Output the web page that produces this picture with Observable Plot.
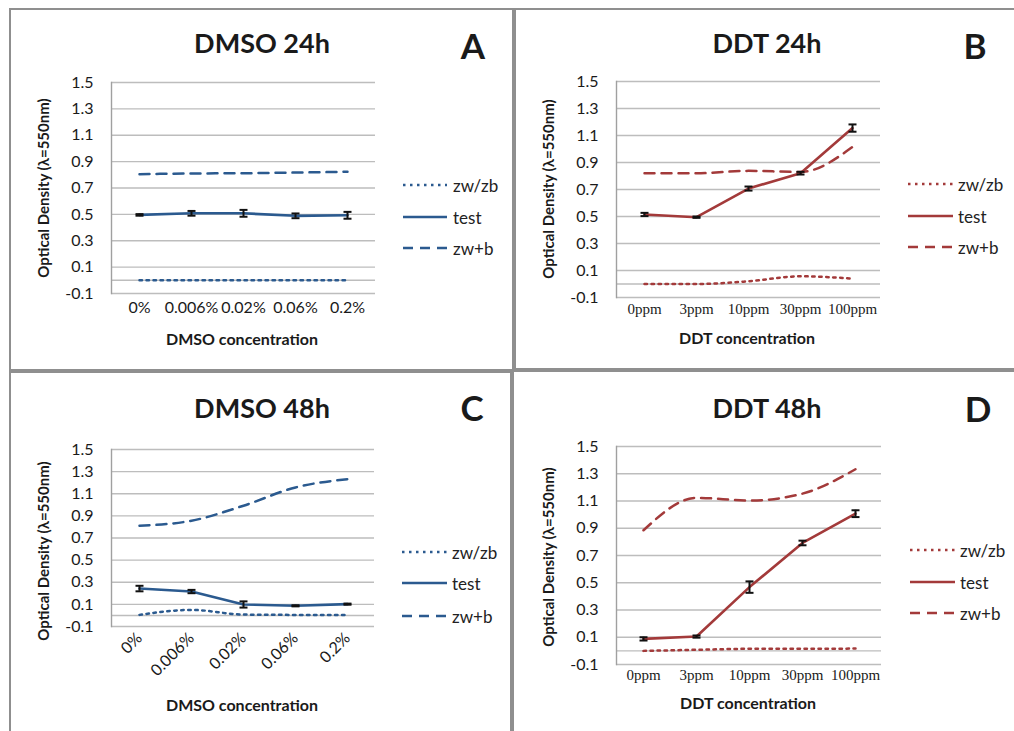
<!DOCTYPE html>
<html>
<head>
<meta charset="utf-8">
<script src="https://cdn.jsdelivr.net/npm/d3@7"></script>
<script src="https://cdn.jsdelivr.net/npm/@observablehq/plot@0.6"></script>
<style>
  html, body { margin: 0; padding: 0; background: #fff; }
  body { width: 1014px; height: 731px; position: relative; overflow: hidden; font-family: Lato, "Open Sans", sans-serif; color: #1a1a1a; }
  .box { position: absolute; box-sizing: border-box; border: 2px solid #8f8f8f; }
  .abs { position: absolute; white-space: nowrap; line-height: 1; }
  .title { font-size: 27px; font-weight: bold; transform: translate(-50%, -50%); }
  .letter { font-size: 35px; font-weight: bold; transform: translate(-50%, -50%); }
  .xlab { font-size: 16px; font-weight: bold; transform: translate(-50%, -50%); }
  .ylab { font-size: 15px; font-weight: bold; transform: translate(-50%, -50%) rotate(-90deg); }
  .leg { font-size: 17px; transform: translateY(-50%); color: #222; }
  .plot { position: absolute; }
</style>
</head>
<body>
<script>
// ---------- data ----------
const dmsoCategories = ["0%", "0.006%", "0.02%", "0.06%", "0.2%"];
const ddtCategories = ["0ppm", "3ppm", "10ppm", "30ppm", "100ppm"];
const yTicks = [-0.1, 0.1, 0.3, 0.5, 0.7, 0.9, 1.1, 1.3, 1.5];
const seriesNames = ["zw/zb", "test", "zw+b"];

// A: DMSO 24h
const dmso24_zwzb = [0.0, 0.0, 0.0, 0.0, 0.0];
const dmso24_test = [0.496, 0.508, 0.508, 0.489, 0.493];
const dmso24_err = [0.006, 0.018, 0.026, 0.018, 0.026];
const dmso24_zwb = [0.805, 0.81, 0.812, 0.817, 0.823];

// B: DDT 24h
const ddt24_zwzb = [0.0, 0.0, 0.02, 0.057, 0.04];
const ddt24_test = [0.515, 0.495, 0.707, 0.821, 1.155];
const ddt24_err = [0.012, 0.005, 0.015, 0.01, 0.027];
const ddt24_zwb = [0.82, 0.82, 0.838, 0.83, 1.015];

// C: DMSO 48h
const dmso48_zwzb = [0.005, 0.05, 0.008, 0.005, 0.005];
const dmso48_test = [0.243, 0.216, 0.099, 0.087, 0.102];
const dmso48_err = [0.025, 0.015, 0.028, 0.005, 0.005];
const dmso48_zwb = [0.811, 0.856, 0.992, 1.157, 1.232];

// D: DDT 48h
const ddt48_zwzb = [0.0, 0.008, 0.015, 0.015, 0.017];
const ddt48_test = [0.088, 0.105, 0.468, 0.792, 1.007];
const ddt48_err = [0.012, 0.008, 0.042, 0.017, 0.025];
const ddt48_zwb = [0.885, 1.123, 1.103, 1.154, 1.333];

const blue = "#2b5a8f";
const red = "#a33a3a";

// ---------- helpers ----------
const capSymbol = {
  draw(context, size) {
    const w = Math.sqrt(size / Math.PI);
    context.moveTo(-w, 0);
    context.lineTo(w, 0);
  }
};

function addDiv(cls, text, x, y) {
  const d = document.createElement("div");
  d.className = "abs " + cls;
  d.textContent = text;
  d.style.left = x + "px";
  d.style.top = y + "px";
  document.body.appendChild(d);
  return d;
}

function addLegend(color, x0, x1, tx, ys) {
  const dashes = ["2.5,4.5", null, "10,7"];
  seriesNames.forEach((name, i) => {
    const svgNS = "http://www.w3.org/2000/svg";
    const s = document.createElementNS(svgNS, "svg");
    s.setAttribute("width", x1 - x0);
    s.setAttribute("height", 6);
    s.style.position = "absolute";
    s.style.left = x0 + "px";
    s.style.top = (ys[i] - 3) + "px";
    const l = document.createElementNS(svgNS, "line");
    l.setAttribute("x1", 0); l.setAttribute("x2", x1 - x0);
    l.setAttribute("y1", 3); l.setAttribute("y2", 3);
    l.setAttribute("stroke", color);
    l.setAttribute("stroke-width", 2.5);
    if (dashes[i]) l.setAttribute("stroke-dasharray", dashes[i]);
    s.appendChild(l);
    document.body.appendChild(s);
    addDiv("leg", name, tx, ys[i]);
  });
}

function makePanel(cfg) {
  const rows = cfg.cats.map((c, i) => ({
    cat: c, zwzb: cfg.zwzb[i], test: cfg.test[i], err: cfg.err[i], zwb: cfg.zwb[i]
  }));
  const gridValues = yTicks.concat([0]);
  const xAxisOpts = {
    label: null,
    tickSize: 0,
    tickPadding: cfg.tickPad,
    fontSize: cfg.xFontSize,
    fontFamily: cfg.xFont,
    color: "#1a1a1a"
  };
  if (cfg.rotate) xAxisOpts.tickRotate = cfg.rotate;
  const chart = Plot.plot({
    width: cfg.w,
    height: cfg.h,
    marginLeft: cfg.mL,
    marginRight: cfg.mR,
    marginTop: cfg.mT,
    marginBottom: cfg.mB,
    style: {fontFamily: "Lato, sans-serif", background: "transparent", overflow: "visible"},
    x: {type: "point", domain: cfg.cats, padding: 0.5},
    y: {domain: [-0.1, 1.5]},
    marks: [
      Plot.ruleY(gridValues, {stroke: "#bdbdbd", strokeWidth: 1.4}),
      Plot.frame({anchor: "left", stroke: "#a0a0a0", strokeWidth: 1.4}),
      Plot.axisY({label: null, ticks: yTicks, tickSize: 0, tickPadding: 18, tickFormat: d => d.toFixed(1), fontSize: 16, color: "#1a1a1a"}),
      Plot.axisX(xAxisOpts),
      Plot.line(rows, {x: "cat", y: "zwzb", stroke: cfg.color, strokeWidth: 2.5, strokeDasharray: "2.5,4.5", curve: "monotone-x"}),
      Plot.line(rows, {x: "cat", y: "zwb", stroke: cfg.color, strokeWidth: 2.5, strokeDasharray: "10,7", curve: "monotone-x"}),
      Plot.line(rows, {x: "cat", y: "test", stroke: cfg.color, strokeWidth: 2.6}),
      Plot.ruleX(rows, {x: "cat", y1: d => d.test - d.err, y2: d => d.test + d.err, stroke: "#111", strokeWidth: 2}),
      Plot.dot(rows, {x: "cat", y: d => d.test - d.err, symbol: capSymbol, r: 4, stroke: "#111", strokeWidth: 2}),
      Plot.dot(rows, {x: "cat", y: d => d.test + d.err, symbol: capSymbol, r: 4, stroke: "#111", strokeWidth: 2})
    ]
  });
  chart.classList.add("plot");
  chart.style.left = cfg.ox + "px";
  chart.style.top = cfg.oy + "px";
  document.body.appendChild(chart);

  const b = document.createElement("div");
  b.className = "box";
  b.style.left = cfg.box[0] + "px";
  b.style.top = cfg.box[1] + "px";
  b.style.width = cfg.box[2] + "px";
  b.style.height = cfg.box[3] + "px";
  document.body.appendChild(b);

  addDiv("title", cfg.title, cfg.titlePos[0], cfg.titlePos[1]);
  addDiv("letter", cfg.letter, cfg.letterPos[0], cfg.letterPos[1]);
  addDiv("xlab", cfg.xlabel, cfg.xlabPos[0], cfg.xlabPos[1]);
  addDiv("ylab", "Optical Density (λ=550nm)", cfg.ylabPos[0], cfg.ylabPos[1]);
  addLegend(cfg.color, cfg.leg[0], cfg.leg[1], cfg.leg[2], cfg.leg[3]);
}

makePanel({
  cats: dmsoCategories, zwzb: dmso24_zwzb, test: dmso24_test, err: dmso24_err, zwb: dmso24_zwb,
  color: blue, ox: 9, oy: 8, w: 505, h: 363, mL: 102, mR: 139, mT: 74, mB: 78,
  tickPad: 8, xFontSize: 16, xFont: "Lato, sans-serif",
  box: [9, 8, 505, 363],
  title: "DMSO 24h", titlePos: [262, 42], letter: "A", letterPos: [473, 45],
  xlabel: "DMSO concentration", xlabPos: [242, 339], ylabPos: [43, 188],
  leg: [403, 447, 453, [185, 217, 248]]
});

makePanel({
  cats: ddtCategories, zwzb: ddt24_zwzb, test: ddt24_test, err: ddt24_err, zwb: ddt24_zwb,
  color: red, ox: 514, oy: 8, w: 500, h: 362, mL: 102, mR: 134, mT: 73, mB: 73,
  tickPad: 6, xFontSize: 15, xFont: "Liberation Serif, serif",
  box: [514, 8, 502, 362],
  title: "DDT 24h", titlePos: [767, 42], letter: "B", letterPos: [975, 45],
  xlabel: "DDT concentration", xlabPos: [747, 338], ylabPos: [548, 189],
  leg: [908, 953, 958, [184, 216, 247]]
});

makePanel({
  cats: dmsoCategories, zwzb: dmso48_zwzb, test: dmso48_test, err: dmso48_err, zwb: dmso48_zwb,
  color: blue, ox: 9, oy: 371, w: 503, h: 360, mL: 102, mR: 138, mT: 78, mB: 105,
  tickPad: 9, xFontSize: 16, xFont: "Lato, sans-serif", rotate: -45,
  box: [9, 371, 503, 364],
  title: "DMSO 48h", titlePos: [262, 407], letter: "C", letterPos: [472, 407],
  xlabel: "DMSO concentration", xlabPos: [242, 705], ylabPos: [43, 551],
  leg: [402, 447, 452, [552, 583, 616]]
});

makePanel({
  cats: ddtCategories, zwzb: ddt48_zwzb, test: ddt48_test, err: ddt48_err, zwb: ddt48_zwb,
  color: red, ox: 512, oy: 370, w: 502, h: 361, mL: 104, mR: 133, mT: 76, mB: 67,
  tickPad: 5, xFontSize: 15, xFont: "Liberation Serif, serif",
  box: [512, 370, 506, 365],
  title: "DDT 48h", titlePos: [767, 407], letter: "D", letterPos: [978, 408],
  xlabel: "DDT concentration", xlabPos: [748, 703], ylabPos: [548, 557],
  leg: [910, 955, 960, [550, 582, 613]]
});
</script>
</body>
</html>
